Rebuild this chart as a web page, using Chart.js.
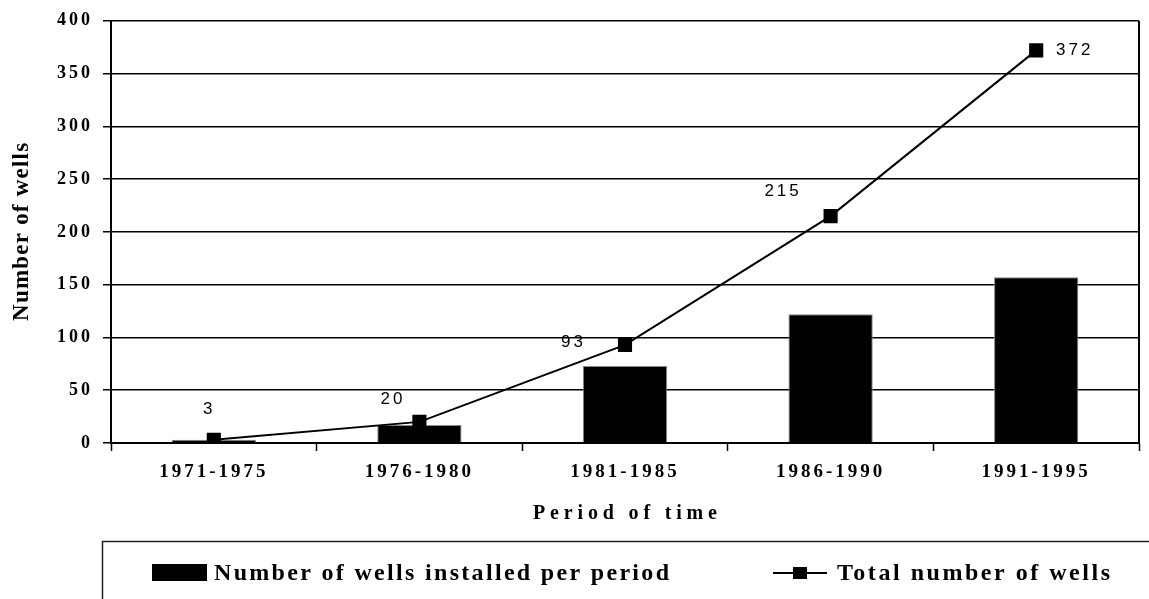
<!DOCTYPE html>
<html>
<head>
<meta charset="utf-8">
<script src="https://cdn.jsdelivr.net/npm/chart.js@4.4.1/dist/chart.umd.min.js"></script>
<style>
  body { margin: 0; background: #fff; }
  canvas { display: block; }
</style>
</head>
<body>
<canvas id="myChart" width="1149" height="599"></canvas>
<script>
// data
var periods = ['1971-1975', '1976-1980', '1981-1985', '1986-1990', '1991-1995'];
var installed = [3, 17, 73, 122, 157];
var totalWells = [3, 20, 93, 215, 372];
var yTicks = [0, 50, 100, 150, 200, 250, 300, 350, 400];

// where each value label sits relative to its point (px)
var labelOffsets = [[-6, -31], [-28, -23], [-53, -3], [-49, -25], [37, 0]];

var serif = '"Liberation Serif", "Times New Roman", serif';
var sans = '"Liberation Sans", Arial, sans-serif';

// draws text stretched/packed to a given width by letter spacing
function spacedText(ctx, text, cx, cy, width, font) {
    ctx.font = font;
    ctx.letterSpacing = '0px';
    var w = ctx.measureText(text).width;
    var ls = (width - w) / (text.length - 1);
    ctx.letterSpacing = ls + 'px';
    ctx.textAlign = 'left';
    ctx.textBaseline = 'middle';
    ctx.fillText(text, cx - width / 2, cy);
}

var extras = {
    id: 'extras',
    beforeDraw: function(chart) {
        chart.ctx.letterSpacing = '3px';
    },
    afterDraw: function(chart) {
        var ctx = chart.ctx;
        var area = chart.chartArea;
        ctx.save();
        ctx.fillStyle = '#000';
        ctx.strokeStyle = '#000';

        // right frame line
        ctx.lineWidth = 2;
        ctx.beginPath();
        ctx.moveTo(area.right, area.top);
        ctx.lineTo(area.right, area.bottom);
        ctx.stroke();

        // value labels on the total line
        var meta = chart.getDatasetMeta(1);
        ctx.font = '17px ' + sans;
        ctx.letterSpacing = '3px';
        ctx.textAlign = 'center';
        ctx.textBaseline = 'middle';
        meta.data.forEach(function(pt, i) {
            var o = labelOffsets[i];
            ctx.fillText(String(totalWells[i]), pt.x + o[0] + 1.5, pt.y + o[1]);
        });

        // axis titles
        var midX = (area.left + area.right) / 2;
        spacedText(ctx, 'Period of time', midX, 514, 184, 'bold 20px ' + serif);
        ctx.save();
        ctx.translate(22, (area.top + area.bottom) / 2);
        ctx.rotate(-Math.PI / 2);
        spacedText(ctx, 'Number of wells', 0, 0, 178, 'bold 23px ' + serif);
        ctx.restore();

        // legend box
        ctx.lineWidth = 1.5;
        ctx.strokeStyle = '#222';
        ctx.strokeRect(102.5, 541.5, 1200, 200);

        var ds = chart.data.datasets;
        ctx.fillStyle = '#000';
        ctx.fillRect(152, 564, 55, 17);
        spacedText(ctx, ds[0].label, 214 + 455 / 2, 574, 455, 'bold 24px ' + serif);

        ctx.strokeStyle = '#000';
        ctx.lineWidth = 2;
        ctx.beginPath();
        ctx.moveTo(773, 573);
        ctx.lineTo(827, 573);
        ctx.stroke();
        ctx.fillRect(793, 567, 14, 12);
        spacedText(ctx, ds[1].label, 837 + 273 / 2, 574, 273, 'bold 24px ' + serif);

        ctx.restore();
    }
};

var ctx = document.getElementById('myChart').getContext('2d');
var myChart = new Chart(ctx, {
    data: {
        labels: periods,
        datasets: [{
            type: 'bar',
            label: 'Number of wells installed per period',
            data: installed,
            backgroundColor: '#000',
            borderColor: '#888',
            borderWidth: 1,
            barPercentage: 0.41,
            categoryPercentage: 1,
            order: 2
        }, {
            type: 'line',
            label: 'Total number of wells',
            data: totalWells,
            borderColor: '#000',
            borderWidth: 2,
            pointStyle: 'rect',
            pointRadius: 10,
            pointBorderWidth: 0,
            pointBackgroundColor: '#000',
            tension: 0,
            order: 1
        }]
    },
    options: {
        responsive: false,
        animation: false,
        layout: { padding: { left: 0, top: 19, right: 8, bottom: 0 } },
        plugins: {
            legend: { display: false },
            tooltip: { enabled: false }
        },
        scales: {
            x: {
                offset: true,
                afterFit: function(scale) { scale.height = 156; },
                grid: {
                    offset: true,
                    drawOnChartArea: false,
                    color: '#000',
                    tickLength: 8,
                    tickWidth: 1.5
                },
                border: { color: '#000', width: 2 },
                ticks: {
                    color: '#000',
                    padding: 10,
                    font: { family: serif, size: 19, weight: 'bold' }
                }
            },
            y: {
                min: 0,
                max: 400,
                afterFit: function(scale) { scale.width = 111; },
                afterBuildTicks: function(scale) {
                    scale.ticks = yTicks.map(function(v) { return { value: v }; });
                },
                grid: {
                    color: '#000',
                    lineWidth: 1.5,
                    tickLength: 8
                },
                border: { color: '#000', width: 2 },
                ticks: {
                    color: '#000',
                    padding: 10,
                    font: { family: serif, size: 18, weight: 'bold' }
                }
            }
        }
    },
    plugins: [extras]
});
</script>
</body>
</html>
